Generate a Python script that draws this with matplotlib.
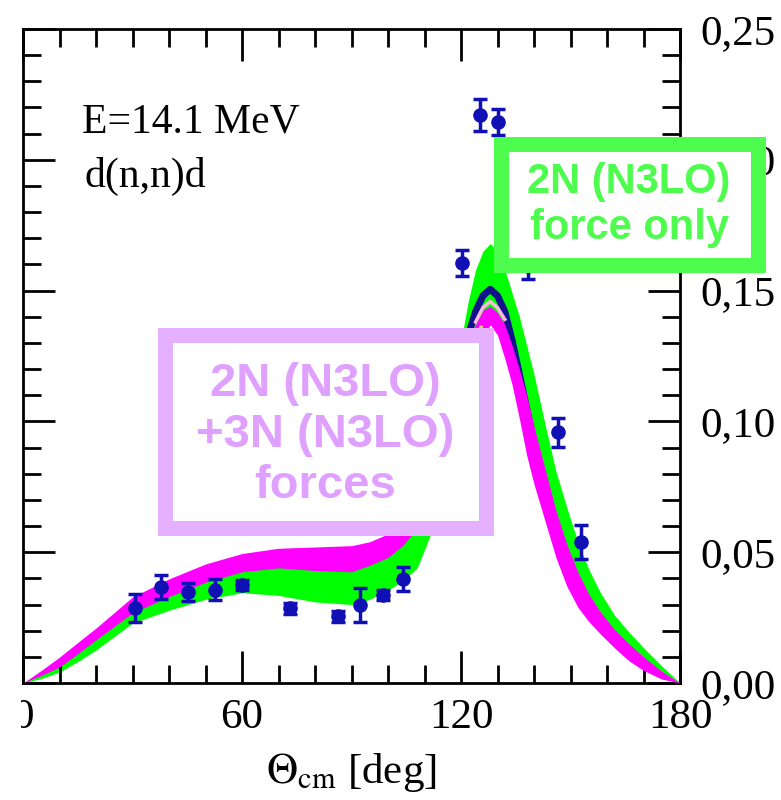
import numpy as np
import matplotlib.pyplot as plt
from matplotlib.patches import Rectangle
from matplotlib.ticker import MultipleLocator, FuncFormatter

plt.rcParams['mathtext.fontset'] = 'stix'

# theory bands
theta = [0, 5, 10, 15, 20, 30, 40, 50, 60, 70, 80, 90, 95, 100, 104, 108, 112, 116,
         120, 122, 124, 126, 128, 130, 132, 134, 136, 138, 140, 143, 146, 149,
         152, 155, 158, 162, 166, 170, 175, 180]

# 2N + 3N band (magenta)
mag_lo = [0, 0.0029, 0.0061, 0.0112, 0.0165, 0.0268, 0.033, 0.0385, 0.0425, 0.044,
          0.043, 0.0425, 0.045, 0.048, 0.0525, 0.059, 0.070, 0.086, 0.106, 0.116,
          0.125, 0.132, 0.137, 0.133, 0.124, 0.114, 0.101, 0.087, 0.076, 0.062,
          0.048, 0.037, 0.029, 0.0235, 0.019, 0.0135, 0.0085, 0.0048, 0.0015, 0]
mag_hi = [0, 0.0048, 0.0099, 0.0155, 0.021, 0.0329, 0.0398, 0.0455, 0.0495, 0.0515,
          0.052, 0.0525, 0.054, 0.057, 0.061, 0.069, 0.082, 0.098, 0.118, 0.128,
          0.137, 0.1425, 0.144, 0.1415, 0.137, 0.129, 0.120, 0.110, 0.098, 0.082,
          0.066, 0.053, 0.0425, 0.034, 0.0275, 0.0205, 0.015, 0.010, 0.0045, 0]

# 2N only band (green)
grn_lo = [0, 0.0017, 0.0042, 0.0082, 0.0126, 0.0229, 0.0278, 0.032, 0.0345, 0.0335,
          0.031, 0.030, 0.032, 0.0355, 0.039, 0.044, 0.058, 0.078, 0.100, 0.112,
          0.124, 0.132, 0.137, 0.137, 0.133, 0.126, 0.117, 0.107, 0.096, 0.080,
          0.065, 0.052, 0.041, 0.033, 0.027, 0.020, 0.0145, 0.0097, 0.0043, 0]
grn_hi = [0, 0.0036, 0.0075, 0.0127, 0.018, 0.029, 0.0355, 0.041, 0.045, 0.047,
          0.046, 0.046, 0.048, 0.052, 0.057, 0.068, 0.086, 0.106, 0.131, 0.146,
          0.158, 0.165, 0.168, 0.165, 0.158, 0.149, 0.140, 0.129, 0.118, 0.099,
          0.081, 0.067, 0.054, 0.0435, 0.035, 0.026, 0.0195, 0.0135, 0.0065, 0]

# single curves near the peak
theta_blue = [120, 122, 124, 126, 128, 130, 132, 134, 136, 138, 140]
blue_line = [0.122, 0.133, 0.142, 0.148, 0.1505, 0.148, 0.142, 0.131, 0.118,
             0.105, 0.092]
theta_pink = [124, 126, 128, 130, 132]
pink_line = [0.138, 0.1435, 0.1458, 0.1435, 0.139]
theta_yel = [122, 124, 125.5]
yel_line = [0.121, 0.131, 0.136]

# d(n,n)d data
theta_exp = [30.7, 37.8, 45.2, 52.6, 60.0, 73.2, 86.3, 92.3, 98.6, 104.1,
             120.3, 125.2, 130.1, 138.4, 146.6, 152.9]
y_exp = [0.0287, 0.0367, 0.0348, 0.0356, 0.0375, 0.0285, 0.0255, 0.0298, 0.0336,
         0.0397, 0.1606, 0.2171, 0.2145, 0.1595, 0.0959, 0.0539]
err_exp = [0.0052, 0.0044, 0.0034, 0.004, 0.002, 0.002, 0.002, 0.0065, 0.002,
           0.0045, 0.005, 0.006, 0.005, 0.005, 0.0055, 0.0065]

fig = plt.figure(figsize=(7.81, 8.0), dpi=100)
ax = fig.add_axes([23/781, 117/800, 657/781, 654/800])

ax.fill_between(theta, grn_lo, grn_hi, color='#00ff00', lw=0, zorder=1)
ax.plot(theta_blue, blue_line, color='#12128c', lw=5, zorder=2)
ax.plot(theta_pink, pink_line, color='#ffb8e0', lw=2.5, zorder=2.5)
ax.fill_between(theta, mag_lo, mag_hi, color='#ff00ff', lw=0, zorder=3)
ax.plot(theta_yel, yel_line, color='#ffcc66', lw=2.5, zorder=3.5)
ax.errorbar(theta_exp, y_exp, yerr=err_exp, fmt='o', color='#1010b4', ms=9.5,
            capsize=5, elinewidth=2.5, capthick=2.5, zorder=4)

ax.set_xlim(0, 180)
ax.set_ylim(0, 0.25)
ax.xaxis.set_major_locator(MultipleLocator(60))
ax.xaxis.set_minor_locator(MultipleLocator(10))
ax.yaxis.set_major_locator(MultipleLocator(0.05))
ax.yaxis.set_minor_locator(MultipleLocator(0.01))
ax.yaxis.set_major_formatter(FuncFormatter(lambda v, p: f"{v:.2f}".replace('.', ',')))
ax.tick_params(which='both', direction='in', top=True, bottom=True, left=True,
               right=True, labelleft=False, labelright=True, width=2,
               labelsize=31)
ax.tick_params(axis='x', pad=11)
ax.tick_params(axis='y', pad=15)
ax.tick_params(which='major', length=23)
ax.tick_params(which='minor', length=13)
for lab in ax.get_xticklabels() + ax.get_yticklabels():
    lab.set_family('Liberation Serif')
for s in ax.spines.values():
    s.set_linewidth(2)

ax.set_xlabel(r'$\Theta_{\rm cm}$ [deg]', fontsize=31, family='Liberation Serif',
              labelpad=10)

ax.text(0.09, 0.841, 'E=14.1 MeV', transform=ax.transAxes, fontsize=30,
        family='Liberation Serif', va='baseline')
ax.text(0.094, 0.758, 'd(n,n)d', transform=ax.transAxes, fontsize=30,
        family='Liberation Serif', va='baseline')

W, H = 781, 800
# the source picture is cut just left of the y axis
fig.add_artist(Rectangle((0, 0), 20.5/W, 110/H, transform=fig.transFigure,
                         facecolor='white', edgecolor='none', zorder=5))

# annotation boxes on top of the figure
green = '#4dfc4d'
pink_edge = '#e4b0ff'
pink_text = '#e0a0ff'
fig.add_artist(Rectangle((500.5/W, 1 - 265.5/H), 257/W, 121/H, transform=fig.transFigure,
                         facecolor='white', edgecolor=green, lw=10.8, zorder=5))
fig.text(629/W, 1 - 205/H, '2N (N3LO)\nforce only', ha='center', va='center',
         fontsize=30, fontweight='bold', family='Liberation Sans', color=green, zorder=6)
fig.add_artist(Rectangle((164.5/W, 1 - 527.5/H), 321/W, 193/H, transform=fig.transFigure,
                         facecolor='white', edgecolor=pink_edge, lw=10.8, zorder=5))
fig.text(325/W, 1 - 435/H, '2N (N3LO)\n+3N (N3LO)\nforces', ha='center', va='center',
         fontsize=34, fontweight='bold', family='Liberation Sans', color=pink_text,
         zorder=6)

plt.savefig('out.png', dpi=100)
